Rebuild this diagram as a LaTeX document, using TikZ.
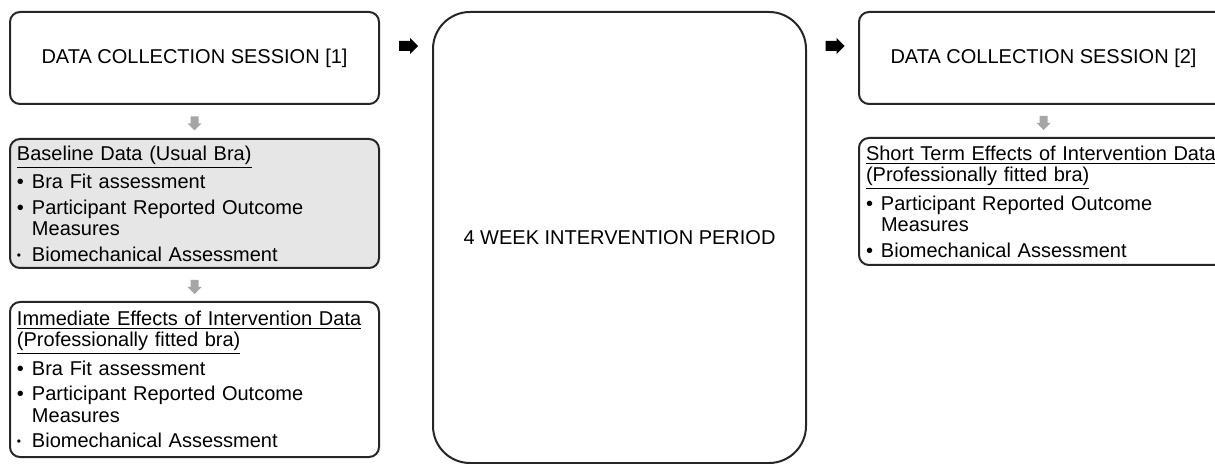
\documentclass[tikz,border=0pt]{standalone}
\usepackage{fontspec}
\setmainfont{Liberation Sans}
\usetikzlibrary{positioning, shapes.arrows, calc}
\definecolor{cline}{HTML}{262626}
\definecolor{cfill}{HTML}{E7E6E6}
\definecolor{cgrey}{HTML}{A6A6A6}
\newcommand{\bitem}[1]{\par\hangindent=7.5pt\hangafter=1\noindent\makebox[7.5pt][l]{\textbullet}#1}
\newcommand{\sitem}[1]{\par\hangindent=7.5pt\hangafter=1\noindent\makebox[7.5pt][l]{\raisebox{0.2ex}{\scalebox{0.6}{\textbullet}}}#1}
\tikzset{
  every picture/.style={font=\fontsize{10}{10.75}\selectfont, line width=1pt},
  box/.style={draw=cline, rounded corners=5pt, inner sep=0pt, minimum width=184.5pt, align=center},
  listbox/.style={box, text width=177.5pt, inner xsep=3.5pt, align=left,
    execute at begin node={\setlength{\parskip}{2pt}\hyphenpenalty=10000\exhyphenpenalty=10000}},
  dnarrow/.style={single arrow, fill=cgrey, inner xsep=0pt, inner ysep=1.5pt, minimum height=7pt,
    single arrow head extend=1.5pt, rotate=-90},
  rtarrow/.style={single arrow, fill=black, inner xsep=0pt, inner ysep=2pt, minimum height=9.5pt,
    single arrow head extend=1.5pt},
}

\begin{document}
\begin{tikzpicture}[x=0.5pt, y=-0.5pt]
  \useasboundingbox (0,0) rectangle (1215,464);
  \clip (0,0) rectangle (1215,464);
  % first session
  \node[box, minimum height=46pt] (dcs1) at (194.5,58) {DATA COLLECTION SESSION [1]};
  \node[listbox, fill=cfill, minimum height=64.5pt, below=16.5pt of dcs1] (base) {\underline{Baseline Data (Usual Bra)}\bitem{Bra Fit assessment}\bitem{Participant Reported Outcome Measures}\sitem{Biomechanical Assessment}};
  \node[listbox, minimum height=77.5pt, below=16pt of base] (immed) {\underline{Immediate Effects of Intervention Data}\\\underline{(Professionally fitted bra)}\bitem{Bra Fit assessment}\bitem{Participant Reported Outcome Measures}\sitem{Biomechanical Assessment}};
  % intervention
  \node[box, minimum width=186.5pt, minimum height=225.5pt, rounded corners=18.5pt, anchor=north west] (period) at ([xshift=26pt]dcs1.north east) {4 WEEK INTERVENTION PERIOD};
  % second session
  \node[box, minimum height=46pt, anchor=north west] (dcs2) at ([xshift=25.5pt]period.north east) {DATA COLLECTION SESSION [2]};
  \node[listbox, inner xsep=3pt, minimum height=63.5pt, below=16pt of dcs2] (short) {\underline{Short Term Effects of Intervention Data}\\\underline{(Professionally fitted bra)}\bitem{Participant Reported Outcome Measures}\bitem{Biomechanical Assessment}};
  % arrows
  \node[dnarrow] (d1) at ($(dcs1.south)!0.5!(base.north)$) {};
  \node[dnarrow] (d2) at ($(base.south)!0.5!(immed.north)$) {};
  \node[dnarrow] (d3) at ($(dcs2.south)!0.5!(short.north)$) {};
  \node[rtarrow] (r1) at ($(dcs1.north east)!0.5!(period.north west)+(0,35)$) {};
  \node[rtarrow] (r2) at ($(period.north east)!0.5!(dcs2.north west)+(0,35)$) {};
\end{tikzpicture}
\end{document}
